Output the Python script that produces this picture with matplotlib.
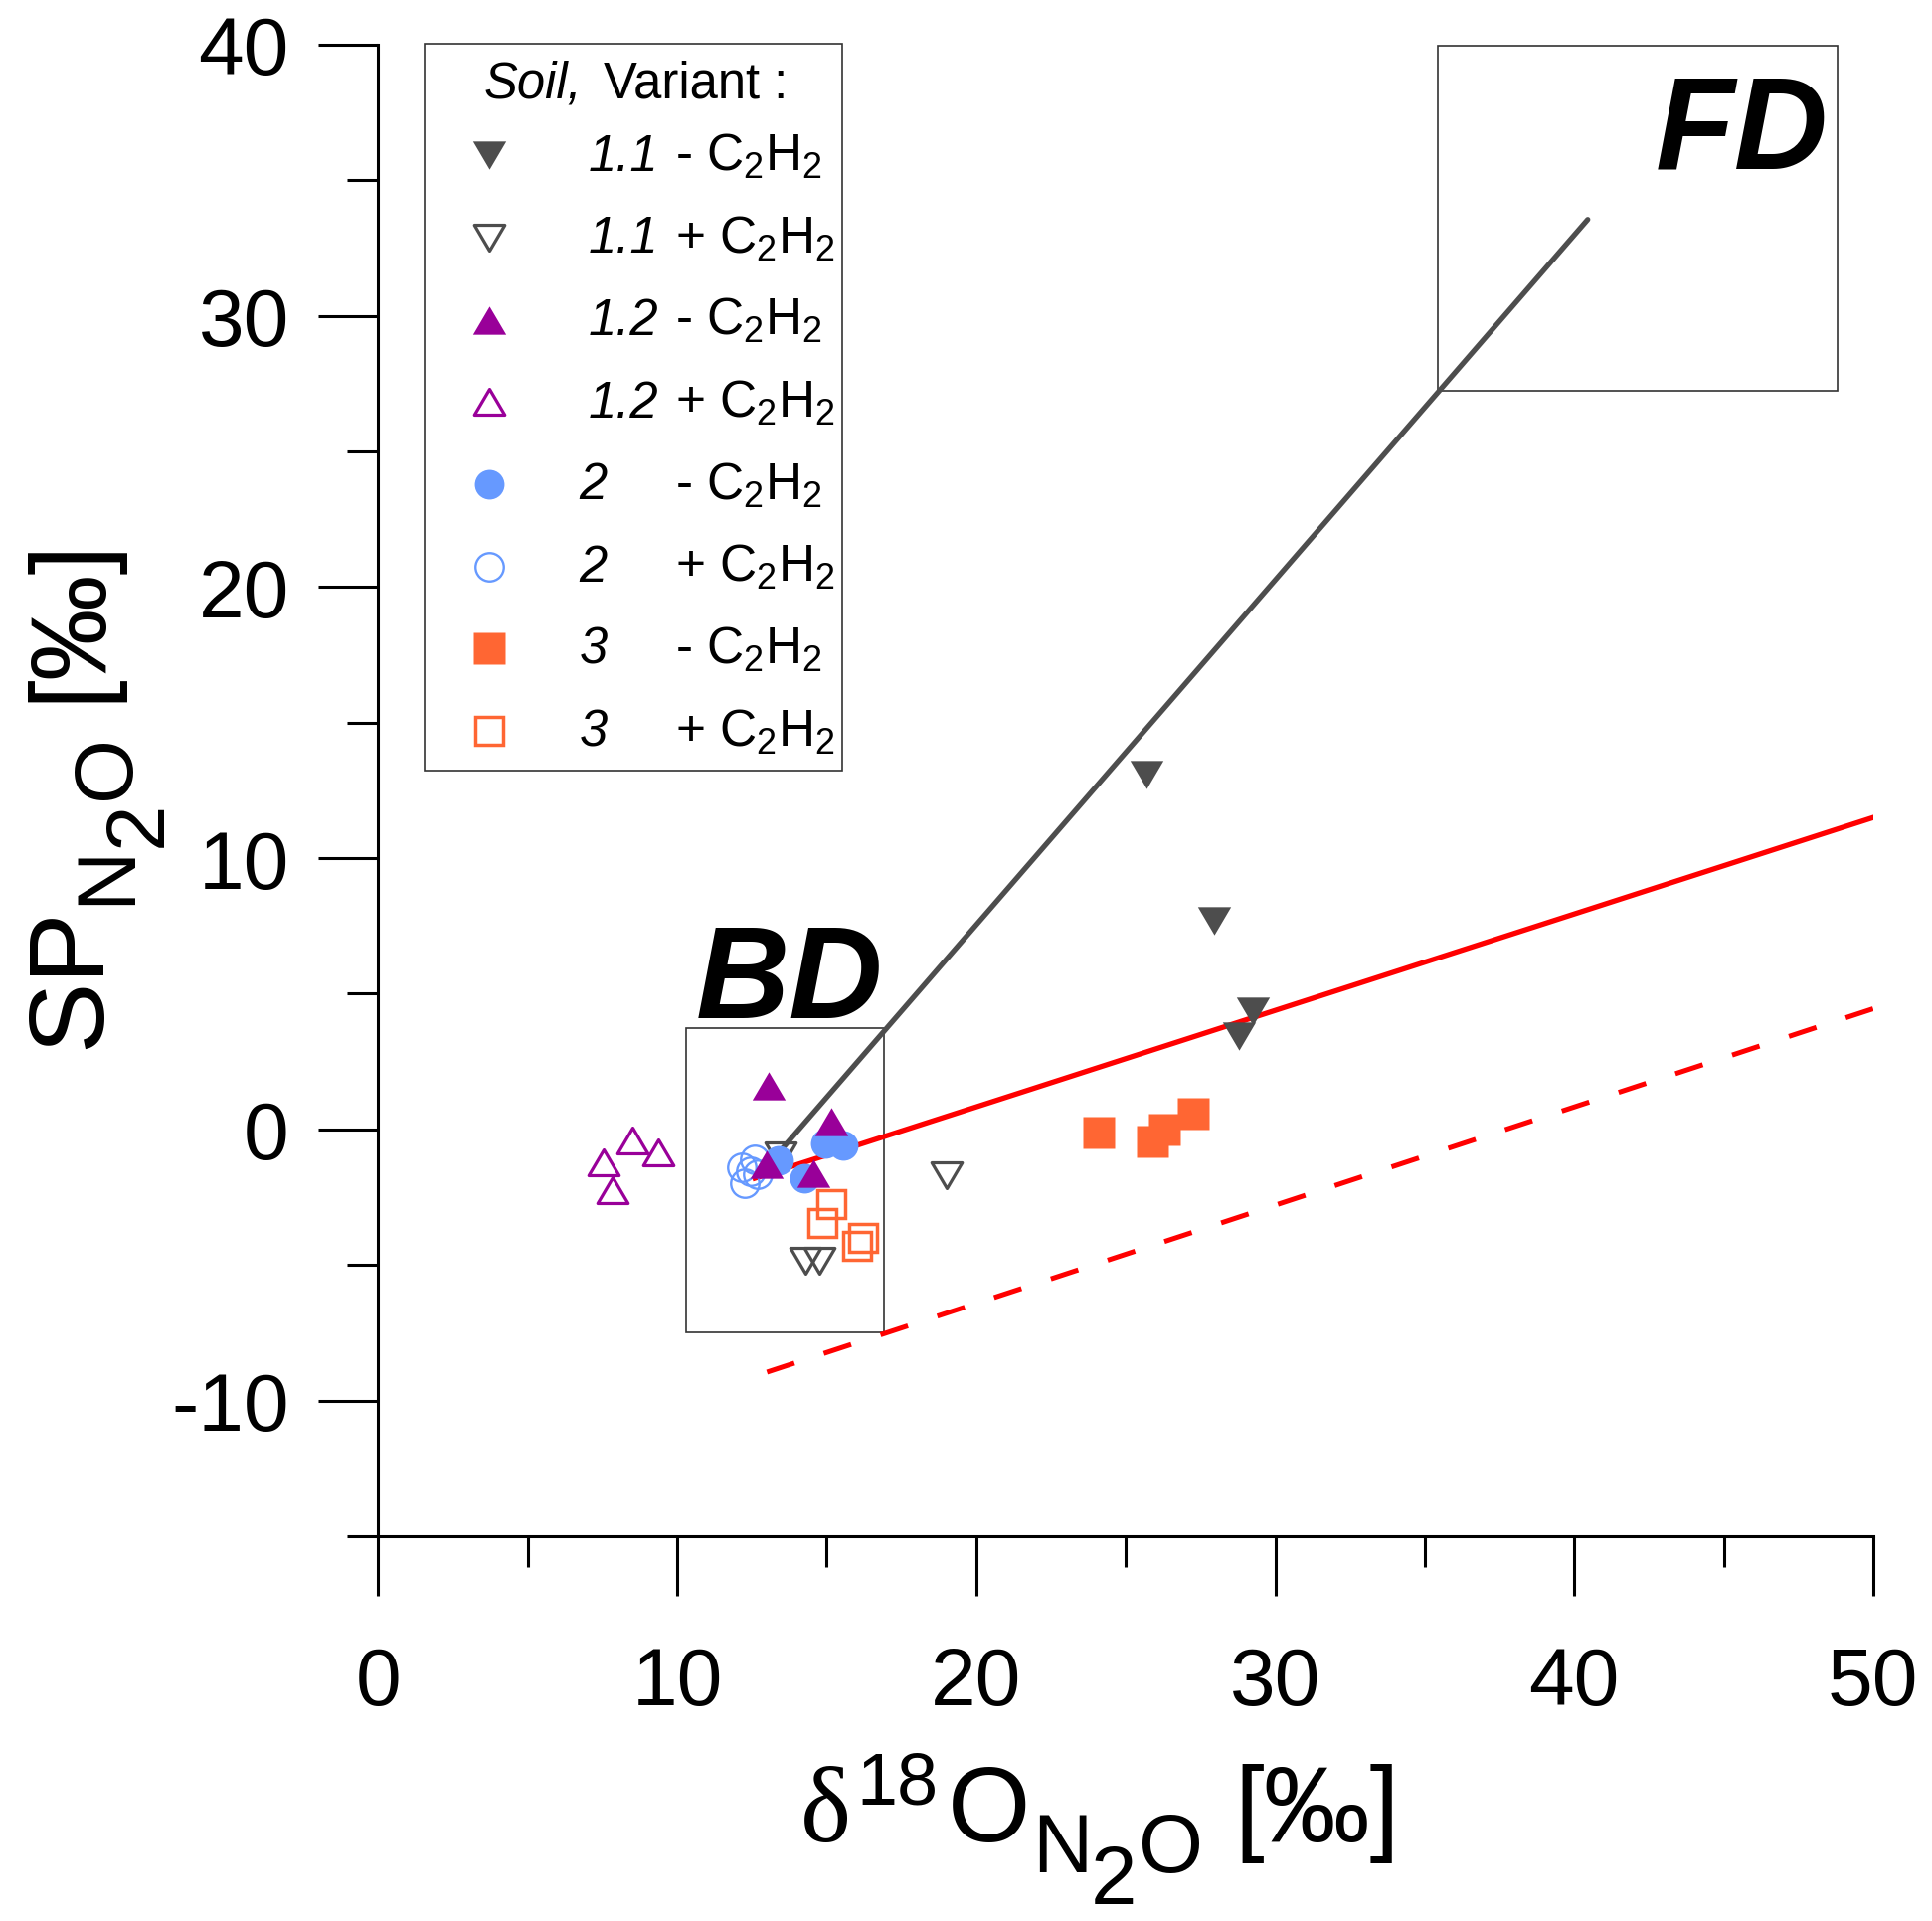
import numpy as np
import matplotlib
matplotlib.use('Agg')
import matplotlib.pyplot as plt
from matplotlib.patches import Rectangle
from matplotlib.path import Path
from matplotlib.ticker import MultipleLocator
from matplotlib.transforms import IdentityTransform

plt.rcParams['font.family'] = ['Liberation Sans', 'DejaVu Sans']
plt.rcParams['mathtext.fontset'] = 'custom'
plt.rcParams['mathtext.rm'] = 'Liberation Sans'
plt.rcParams['mathtext.it'] = 'Liberation Sans:italic'
plt.rcParams['mathtext.bf'] = 'Liberation Sans:bold'
plt.rcParams['axes.unicode_minus'] = False

# ---- data ----
s11_minus_x = [25.7, 27.95, 29.25, 28.8]
s11_minus_y = [13.1, 7.7, 4.35, 3.45]
s11_plus_x = [13.45, 14.3, 14.75, 19.0]
s11_plus_y = [-0.95, -4.85, -4.85, -1.7]
s12_minus_x = [13.05, 15.15, 13.0, 14.55]
s12_minus_y = [1.6, 0.3, -1.3, -1.6]
s12_plus_x = [8.5, 9.35, 7.55, 7.85]
s12_plus_y = [-0.4, -0.85, -1.2, -2.25]
s2_minus_x = [13.4, 14.25, 14.95, 15.55]
s2_minus_y = [-1.15, -1.8, -0.5, -0.6]
s2_plus_x = [12.15, 12.6, 12.25, 12.7, 12.45]
s2_plus_y = [-1.4, -1.1, -2.0, -1.65, -1.55]
s3_minus_x = [24.1, 25.9, 26.3, 27.25]
s3_minus_y = [-0.1, -0.45, 0.0, 0.6]
s3_plus_x = [15.15, 14.85, 16.2, 16.0]
s3_plus_y = [-2.75, -3.45, -4.0, -4.3]

# mixing / reduction lines
fd_line_x = [13.4, 40.45]
fd_line_y = [-0.85, 33.55]
red_line_x = [12.6, 50.0]
red_line_y = [-1.8, 11.5]
red_dash_x = [13.0, 50.0]
red_dash_y = [-8.95, 4.45]

# source boxes [x0, x1, y0, y1]
bd_box = [10.3, 16.9, -7.5, 3.75]
fd_box = [35.45, 48.8, 27.25, 39.95]

soil_names = ['1.1', '1.1', '1.2', '1.2', '2', '2', '3', '3']
signs = ['-', '+', '-', '+', '-', '+', '-', '+']

gray = '#4d4d4d'
purple = '#990099'
blue = '#6699ff'
orange = '#ff6633'

tri_up = Path([(-1, -0.85), (1, -0.85), (0, 0.85), (0, 0)], closed=True)
tri_dn = Path([(-1, 0.85), (1, 0.85), (0, -0.85), (0, 0)], closed=True)

styles = [
    dict(marker=tri_dn, ms=24, mfc=gray, mec='none', zorder=4),
    dict(marker=tri_dn, ms=22, mfc='none', mec=gray, mew=2.3, zorder=3),
    dict(marker=tri_up, ms=24, mfc=purple, mec='none', zorder=5),
    dict(marker=tri_up, ms=22, mfc='none', mec=purple, mew=2.3, zorder=3),
    dict(marker='o', ms=21.5, mfc=blue, mec='none', zorder=4),
    dict(marker='o', ms=20.5, mfc='none', mec=blue, mew=1.7, zorder=3),
    dict(marker='s', ms=23, mfc=orange, mec='none', zorder=4),
    dict(marker='s', ms=20.5, mfc='none', mec=orange, mew=2.5, zorder=3),
]
series = [
    (s11_minus_x, s11_minus_y), (s11_plus_x, s11_plus_y),
    (s12_minus_x, s12_minus_y), (s12_plus_x, s12_plus_y),
    (s2_minus_x, s2_minus_y), (s2_plus_x, s2_plus_y),
    (s3_minus_x, s3_minus_y), (s3_plus_x, s3_plus_y),
]

fig = plt.figure(figsize=(19.43, 19.33), dpi=100)
ax = fig.add_axes([0.1958, 0.2002, 0.7738, 0.7761])

# boxes
for b in (bd_box, fd_box):
    ax.add_patch(Rectangle((b[0], b[2]), b[1] - b[0], b[3] - b[2], fill=False,
                           ec='#333333', lw=1.2, zorder=1))

ax.plot(fd_line_x, fd_line_y, color=gray, lw=3.8, solid_capstyle='round', zorder=2.5)
ax.plot(red_line_x, red_line_y, color='red', lw=3.8, zorder=2.5)
ax.plot(red_dash_x, red_dash_y, color='red', lw=3.6, dashes=(5.8, 6.22), zorder=2.5)

for (xs, ys), st in zip(series, styles):
    ax.plot(xs, ys, ls='none', **st)

ax.text(48.5, 35.45, 'FD', fontsize=94, fontweight='bold', fontstyle='italic',
        ha='right', va='baseline')
ax.text(16.9, 4.15, 'BD', fontsize=94, fontweight='bold', fontstyle='italic',
        ha='right', va='baseline')

# axes styling
ax.set_xlim(0, 50)
ax.set_ylim(-15, 40)
ax.spines['top'].set_visible(False)
ax.spines['right'].set_visible(False)
for s in ('left', 'bottom'):
    ax.spines[s].set_linewidth(2.2)
ax.xaxis.set_major_locator(MultipleLocator(10))
ax.xaxis.set_minor_locator(MultipleLocator(5))
ax.yaxis.set_major_locator(MultipleLocator(10))
ax.yaxis.set_minor_locator(MultipleLocator(5))
ax.tick_params(which='major', length=43.5, width=2.2, labelsize=59)
ax.tick_params(which='minor', length=22, width=2.2)
ax.tick_params(axis='x', which='major', pad=36)
ax.tick_params(axis='y', which='major', pad=21)

# legend drawn by hand to keep the three text columns
ax.add_patch(Rectangle((0.0313, 0.5132), 0.2787, 0.4871, transform=ax.transAxes,
                       fill=False, ec='#333333', lw=1.2, clip_on=False, zorder=6))
ax.text(0.0705, 0.9649, 'Soil,', fontsize=36.5, fontstyle='italic',
        transform=ax.transAxes, va='baseline')
ax.text(0.151, 0.9649, 'Variant :', fontsize=36.5, transform=ax.transAxes, va='baseline')
row0, step = 0.9256, 0.0551
for i, st in enumerate(styles):
    ry = row0 - i * step
    ax.plot([0.0745], [ry], transform=ax.transAxes, clip_on=False, ls='none', **st)
    sx = 0.1404 if '.' in soil_names[i] else 0.1344
    ax.text(sx, ry - 0.0094, soil_names[i], fontsize=36.5, fontstyle='italic',
            transform=ax.transAxes, va='baseline')
    ax.text(0.1989, ry - 0.0094, signs[i] + r' C$_2$H$_2$', fontsize=37,
            transform=ax.transAxes, va='baseline')

# axis labels placed piece by piece (the "2" keeps subscript size, only lowered)
H = 1933
sans = ['Liberation Sans', 'DejaVu Sans']
serif = ['Liberation Serif', 'DejaVu Serif']


def put(txt, size, x, y, fam, rot=0):
    fig.text(x, y, txt, fontsize=size, family=fam, transform=IdentityTransform(),
             ha='left', va='baseline', rotation=rot, rotation_mode='anchor')


# (text, size, pen x px, baseline px from top)
xlab = [('δ', 78, 805, 1852, serif), ('18', 53, 861, 1815, sans),
        ('O', 77, 953, 1852, sans), ('N', 60, 1038, 1883, sans),
        ('2', 60, 1097, 1915, sans), ('O', 60, 1145, 1883, sans),
        ('[‰]', 77, 1241, 1852, sans)]
for t, s, x, y, f in xlab:
    put(t, s, x, H - y, f)

# (text, size, baseline px from left, pen start px from top)
ylab = [('SP', 77, 100, 1055, sans), ('N', 60, 130, 910, sans),
        ('2', 60, 162, 852, sans), ('O', 60, 130, 804, sans),
        ('[‰]', 77, 99, 706, sans)]
for t, s, x, y, f in ylab:
    put(t, s, x, H - y, f, rot=90)

fig.savefig('out.png', dpi=100)
